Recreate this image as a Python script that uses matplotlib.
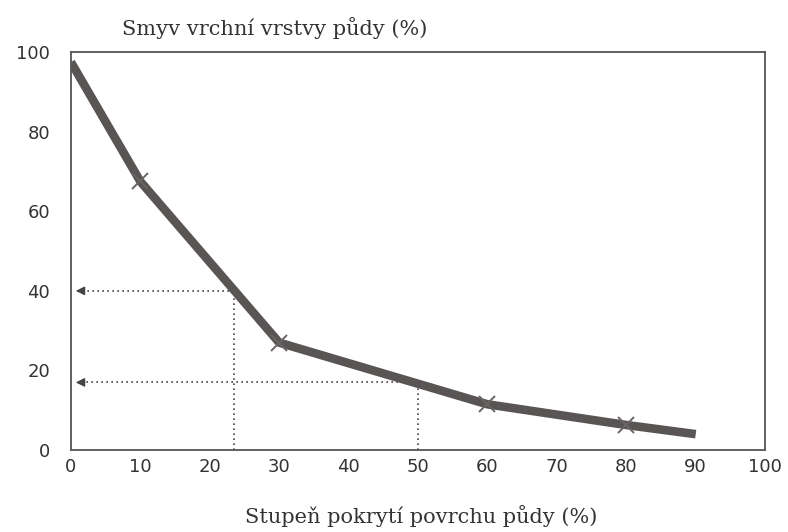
import matplotlib
matplotlib.use("Agg")
import matplotlib.pyplot as plt

# Data
cover = [0, 10, 30, 60, 80, 90]
loss = [97.5, 67.5, 27, 11.5, 6.3, 4]
marker_x = [10, 30, 60, 80]
marker_y = [67.5, 27, 11.5, 6.3]
guide_x = [23.5, 50]
guide_y = [40, 17]
xticks = [0, 10, 20, 30, 40, 50, 60, 70, 80, 90, 100]
yticks = [0, 20, 40, 60, 80, 100]

fig = plt.figure(figsize=(7.88, 5.32), dpi=100)
ax = fig.add_axes([0.090, 0.154, 0.881, 0.748])
ax.set_xlim(0, 100)
ax.set_ylim(0, 100)

tickfont = ['DejaVu Sans']
serif = ['DejaVu Serif']

# guide lines
for gx, gy in zip(guide_x, guide_y):
    ax.plot([gx, gx], [0, gy], ls=(0, (1, 2)), color='#444444', lw=1.2, zorder=2)
    ax.plot([gx, 1.5], [gy, gy], ls=(0, (1, 2)), color='#444444', lw=1.2, zorder=2)
    ax.annotate('', xy=(0.3, gy), xytext=(2.0, gy),
                arrowprops=dict(arrowstyle='-|>', color='#444444', lw=1.0,
                                mutation_scale=13), zorder=3)

ax.plot(cover, loss, color='#5a5555', lw=6.2, solid_capstyle='butt',
        solid_joinstyle='round', zorder=4)
ax.plot(marker_x, marker_y, ls='none', marker='x', ms=11, mew=1.4,
        color='#6a6464', zorder=5)

for s in ax.spines.values():
    s.set_color('#555555')
    s.set_linewidth(1.3)

ax.set_xticks(xticks)
ax.set_yticks(yticks)
ax.tick_params(length=0)
ax.set_xticklabels([str(v) for v in xticks], family=tickfont, fontsize=13, color='#333333')
ax.set_yticklabels([str(v) for v in yticks], family=tickfont, fontsize=13, color='#333333')
ax.tick_params(axis='x', pad=6)
ax.tick_params(axis='y', pad=15)

fig.text(122/788, 1 - 28/532, 'Smyv vrchní vrstvy půdy (%)', family=serif,
         fontsize=15, color='#333333', va='center', ha='left')
fig.text(421/788, 1 - 516/532, 'Stupeň pokrytí povrchu půdy (%)', family=serif,
         fontsize=15, color='#333333', va='center', ha='center')

fig.savefig('out.png', dpi=100)
